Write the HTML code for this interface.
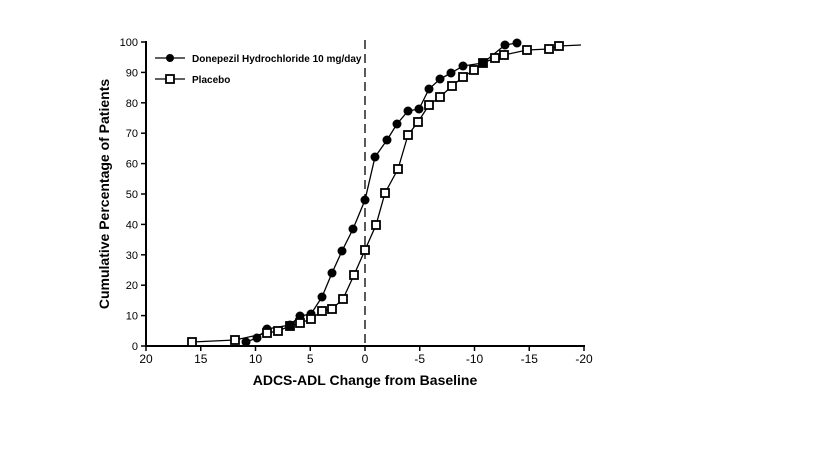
<!DOCTYPE html><html><head><style>body{margin:0;background:#fff}</style></head><body>
<svg width="819" height="460" xmlns="http://www.w3.org/2000/svg" font-family="Liberation Sans, Arial, sans-serif">
<rect width="819" height="460" fill="#fff"/>
<g stroke="#000" stroke-width="2">
<line x1="146" y1="41" x2="146" y2="347"/><line x1="145" y1="346" x2="585" y2="346"/>
</g>
<g stroke="#000" stroke-width="1.5">
<line x1="141" y1="346" x2="146" y2="346"/><line x1="141" y1="315.6" x2="146" y2="315.6"/><line x1="141" y1="285.2" x2="146" y2="285.2"/><line x1="141" y1="254.8" x2="146" y2="254.8"/><line x1="141" y1="224.4" x2="146" y2="224.4"/><line x1="141" y1="194" x2="146" y2="194"/><line x1="141" y1="163.6" x2="146" y2="163.6"/><line x1="141" y1="133.2" x2="146" y2="133.2"/><line x1="141" y1="102.8" x2="146" y2="102.8"/><line x1="141" y1="72.4" x2="146" y2="72.4"/><line x1="141" y1="42" x2="146" y2="42"/>
<line x1="146" y1="346" x2="146" y2="351"/><line x1="200.75" y1="346" x2="200.75" y2="351"/><line x1="255.5" y1="346" x2="255.5" y2="351"/><line x1="310.25" y1="346" x2="310.25" y2="351"/><line x1="365" y1="346" x2="365" y2="351"/><line x1="419.75" y1="346" x2="419.75" y2="351"/><line x1="474.5" y1="346" x2="474.5" y2="351"/><line x1="529.25" y1="346" x2="529.25" y2="351"/><line x1="584" y1="346" x2="584" y2="351"/>
</g>
<g font-size="11" text-anchor="end" fill="#000">
<text x="138" y="350">0</text><text x="138" y="319.6">10</text><text x="138" y="289.2">20</text><text x="138" y="258.8">30</text><text x="138" y="228.4">40</text><text x="138" y="198">50</text><text x="138" y="167.6">60</text><text x="138" y="137.2">70</text><text x="138" y="106.8">80</text><text x="138" y="76.4">90</text><text x="138" y="46">100</text>
</g>
<g font-size="12" text-anchor="middle" fill="#000">
<text x="146" y="363">20</text><text x="200.75" y="363">15</text><text x="255.5" y="363">10</text><text x="310.25" y="363">5</text><text x="365" y="363">0</text><text x="419.75" y="363">-5</text><text x="474.5" y="363">-10</text><text x="529.25" y="363">-15</text><text x="584" y="363">-20</text>
</g>
<text x="365" y="385" font-size="14" font-weight="bold" text-anchor="middle">ADCS-ADL Change from Baseline</text>
<text transform="translate(109,194) rotate(-90)" font-size="14" font-weight="bold" text-anchor="middle">Cumulative Percentage of Patients</text>
<line x1="365" y1="40" x2="365" y2="346" stroke="#000" stroke-width="1.3" stroke-dasharray="9,5"/>
<polyline fill="none" stroke="#000" stroke-width="1.3" points="192,342 235,340 267,333 278,331 290,326 300,323 311,319 322,311 332,309 343,299 354,275 365,250 376,225 385,193 398,169 408,135 418,122 429,105 440,97 452,86 463,77 474,70 483,63 495,58 504,55 527,50 549,49 559,46 581,45"/>
<polyline fill="none" stroke="#000" stroke-width="1.3" points="246,342 257,338 267,329 290,325 300,316 311,314 322,297 332,273 342,251 353,229 365,200 375,157 387,140 397,124 408,111 419,109 429,89 440,79 451,73 463,66 483,63 505,45 517,43"/>
<g fill="#000">
<circle cx="246" cy="342" r="4.5"/><circle cx="257" cy="338" r="4.5"/><circle cx="267" cy="329" r="4.5"/><circle cx="290" cy="325" r="4.5"/><circle cx="300" cy="316" r="4.5"/><circle cx="311" cy="314" r="4.5"/><circle cx="322" cy="297" r="4.5"/><circle cx="332" cy="273" r="4.5"/><circle cx="342" cy="251" r="4.5"/><circle cx="353" cy="229" r="4.5"/><circle cx="365" cy="200" r="4.5"/><circle cx="375" cy="157" r="4.5"/><circle cx="387" cy="140" r="4.5"/><circle cx="397" cy="124" r="4.5"/><circle cx="408" cy="111" r="4.5"/><circle cx="419" cy="109" r="4.5"/><circle cx="429" cy="89" r="4.5"/><circle cx="440" cy="79" r="4.5"/><circle cx="451" cy="73" r="4.5"/><circle cx="463" cy="66" r="4.5"/><circle cx="483" cy="63" r="4.5"/><circle cx="505" cy="45" r="4.5"/><circle cx="517" cy="43" r="4.5"/>
</g>
<g fill="#fff" stroke="#000" stroke-width="1.8">
<rect x="188" y="338" width="8" height="8"/><rect x="231" y="336" width="8" height="8"/><rect x="263" y="329" width="8" height="8"/><rect x="274" y="327" width="8" height="8"/><rect x="286" y="322" width="8" height="8" fill="#000"/><rect x="296" y="319" width="8" height="8"/><rect x="307" y="315" width="8" height="8"/><rect x="318" y="307" width="8" height="8"/><rect x="328" y="305" width="8" height="8"/><rect x="339" y="295" width="8" height="8"/><rect x="350" y="271" width="8" height="8"/><rect x="361" y="246" width="8" height="8"/><rect x="372" y="221" width="8" height="8"/><rect x="381" y="189" width="8" height="8"/><rect x="394" y="165" width="8" height="8"/><rect x="404" y="131" width="8" height="8"/><rect x="414" y="118" width="8" height="8"/><rect x="425" y="101" width="8" height="8"/><rect x="436" y="93" width="8" height="8"/><rect x="448" y="82" width="8" height="8"/><rect x="459" y="73" width="8" height="8"/><rect x="470" y="66" width="8" height="8"/><rect x="479" y="59" width="8" height="8" fill="#000"/><rect x="491" y="54" width="8" height="8"/><rect x="500" y="51" width="8" height="8"/><rect x="523" y="46" width="8" height="8"/><rect x="545" y="45" width="8" height="8"/><rect x="555" y="42" width="8" height="8"/>
</g>
<line x1="155" y1="58" x2="185" y2="58" stroke="#000" stroke-width="1.3"/><circle cx="170" cy="58" r="4"/>
<text x="192" y="62" font-size="10" font-weight="bold">Donepezil Hydrochloride 10 mg/day</text>
<line x1="155" y1="79" x2="185" y2="79" stroke="#000" stroke-width="1.3"/><rect x="166" y="75" width="8" height="8" fill="#fff" stroke="#000" stroke-width="1.8"/>
<text x="192" y="83" font-size="10" font-weight="bold">Placebo</text>
</svg>
</body></html>
